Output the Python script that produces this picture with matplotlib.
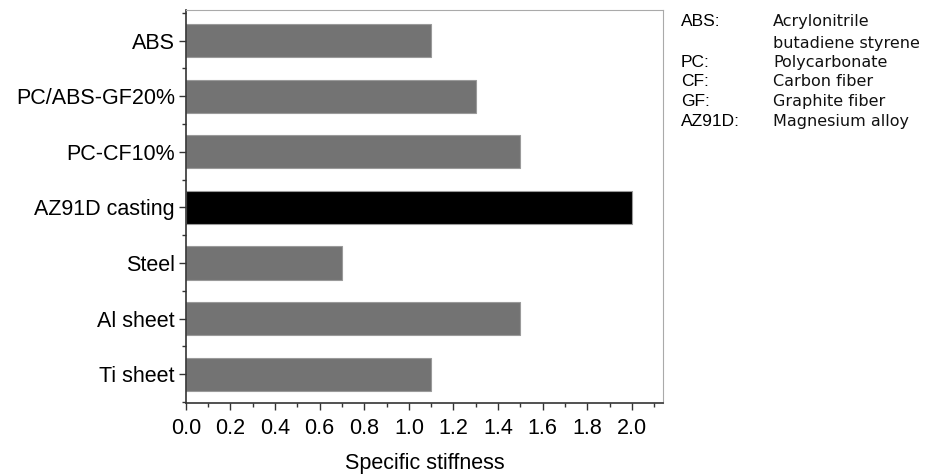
import matplotlib
matplotlib.use("Agg")
import matplotlib.pyplot as plt
from matplotlib.ticker import MultipleLocator

# data
materials = ['ABS', 'PC/ABS-GF20%', 'PC-CF10%', 'AZ91D casting', 'Steel', 'Al sheet', 'Ti sheet']
stiffness = [1.1, 1.3, 1.5, 2.0, 0.7, 1.5, 1.1]
bar_colors = ['#737373', '#737373', '#737373', '#000000', '#737373', '#737373', '#737373']

abbrev = ['ABS:', '', 'PC:', 'CF:', 'GF:', 'AZ91D:']
meaning = ['Acrylonitrile', 'butadiene styrene', 'Polycarbonate', 'Carbon fiber',
           'Graphite fiber', 'Magnesium alloy']

plt.rcParams['font.family'] = ['Liberation Sans', 'DejaVu Sans']

fig = plt.figure(figsize=(9.34, 4.76), dpi=100)
ax = fig.add_axes([0.199, 0.153, 0.511, 0.826])

ypos = list(range(len(materials)))
ax.barh(ypos, stiffness, height=0.6, color=bar_colors, edgecolor='#9a9a9a', linewidth=0.8)

ax.set_yticks(ypos)
ax.set_yticklabels(materials, fontsize=15.5)
ax.set_ylim(len(materials) - 0.48, -0.55)
ax.yaxis.set_minor_locator(MultipleLocator(0.5))

ax.set_xlim(0, 2.14)
ax.set_xticks([i * 0.2 for i in range(11)])
ax.set_xticklabels([f'{i * 0.2:.1f}' for i in range(11)], fontsize=15.5)
ax.xaxis.set_minor_locator(MultipleLocator(0.1))
ax.set_xlabel('Specific stiffness', fontsize=15.5, labelpad=10)

ax.tick_params(which='major', direction='out', length=5, width=1, color='#333333')
ax.tick_params(axis='x', which='major', pad=6)
ax.tick_params(axis='y', which='major', pad=3)
ax.tick_params(which='minor', direction='out', length=3, width=1, color='#333333')

for side in ['left', 'bottom']:
    ax.spines[side].set_color('#333333')
    ax.spines[side].set_linewidth(1.2)
for side in ['top', 'right']:
    ax.spines[side].set_color('#aaaaaa')
    ax.spines[side].set_linewidth(0.8)

# abbreviation notes
line_y = [0.954, 0.909, 0.869, 0.828, 0.786, 0.745]
for a, m, y in zip(abbrev, meaning, line_y):
    fig.text(0.729, y, a, fontsize=12.5, va='center', family=['Liberation Sans'])
    fig.text(0.828, y, m, fontsize=11.5, va='center', family=['DejaVu Sans'], color='#111111')

fig.savefig('out.png', dpi=100)
